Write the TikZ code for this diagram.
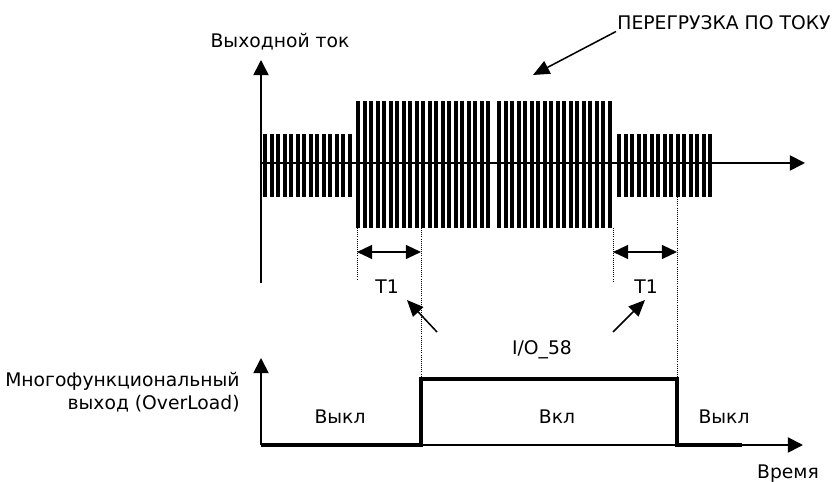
\documentclass[tikz,border=0pt]{standalone}
\usepackage{fontspec}
\setmainfont{DejaVu Sans}
\usetikzlibrary{positioning,arrows.meta}

\begin{document}
\begin{tikzpicture}[x=0.03cm,y=0.03cm,
  lbl/.style={font=\fontsize{16}{19.5}\selectfont, inner sep=1pt},
  axis/.style={line width=1.5pt,-{Triangle[length=13pt,width=13pt]}},
  guide/.style={dash pattern=on 0.6pt off 1.2pt, line width=0.6pt},
  span/.style={line width=1.3pt,{Triangle[length=13pt,width=12pt]}-{Triangle[length=13pt,width=12pt]}},
  pointer/.style={line width=1.3pt,-{Triangle[length=14pt,width=12pt]}},
  signal/.style={line width=2.6pt}]
\useasboundingbox (0,0) rectangle (835,482);
% pulse trains of the output current
\foreach \i in {0,...,13} \fill ({263+\i*6.5},285) rectangle +(4.2,63);
\foreach \i in {0,...,20} \fill ({356+\i*6.5},254) rectangle +(4.2,127);
\foreach \i in {0,...,17} \fill ({497+\i*6.5},254) rectangle +(4.2,127);
\foreach \i in {0,...,14} \fill ({617+\i*6.5},285) rectangle +(4.2,63);
% axes
\coordinate (o1) at (261,319);   \coordinate (x1) at (805,319);
\coordinate (y1b) at (261,199);  \coordinate (y1) at (261,422);
\coordinate (o2) at (261,37);    \coordinate (x2) at (803,37);  \coordinate (y2) at (261,124);
\draw[axis] (y1b) -- (y1);
\draw[axis] (o1) -- (x1);
\draw[axis] (o2) -- (y2);
\draw[axis] (o2) -- (x2);
% labels
\node[lbl] (current) at (280,440) {Выходной ток};
\node[lbl,anchor=west] (overload) at (616,459) {ПЕРЕГРУЗКА ПО ТОКУ};
\node[lbl,align=right,anchor=east] (multi) at (241,90) {Многофункциональный\\выход (OverLoad)};
\node[lbl] (off1) at (340,65) {Выкл};
\node[lbl] (on) at (557,65) {Вкл};
\node[lbl] (off2) at (724,65) {Выкл};
\node[lbl] (time) at (788,8) {Время};
\node[lbl] (t1a) at (387,195) {T1};
\node[lbl] (t1b) at (646,195) {T1};
\node[lbl] (io) at (542,132) {I/O\_58};
% guide lines
\coordinate (ga) at (357,254); \coordinate (gae) at (357,202);
\coordinate (gb) at (421,254); \coordinate (gbe) at (421,103);
\coordinate (gc) at (613,254); \coordinate (gce) at (613,200);
\coordinate (gd) at (677,285); \coordinate (gde) at (677,103);
\draw[guide] (ga) -- (gae);  \draw[guide] (gb) -- (gbe);
\draw[guide] (gc) -- (gce);  \draw[guide] (gd) -- (gde);
% delay spans
\coordinate (sa) at (357,230); \coordinate (sb) at (421,230);
\coordinate (sc) at (613,230); \coordinate (sd) at (677,230);
\draw[span] (sa) -- (sb);
\draw[span] (sc) -- (sd);
% pointers
\coordinate (ovtip) at (533,407);
\coordinate (pa) at (437,150); \coordinate (pat) at (407,182);
\coordinate (pb) at (613,150); \coordinate (pbt) at (645,182);
\draw[pointer] (overload.south west) -- (ovtip);
\draw[pointer] (pa) -- (pat);
\draw[pointer] (pb) -- (pbt);
% multifunction output
\coordinate (s1) at (421,37); \coordinate (s2) at (421,103);
\coordinate (s3) at (677,103); \coordinate (s4) at (677,37); \coordinate (s5) at (742,37);
\draw[signal] (o2) -- (s1) -- (s2) -- (s3) -- (s4) -- (s5);
\end{tikzpicture}
\end{document}
